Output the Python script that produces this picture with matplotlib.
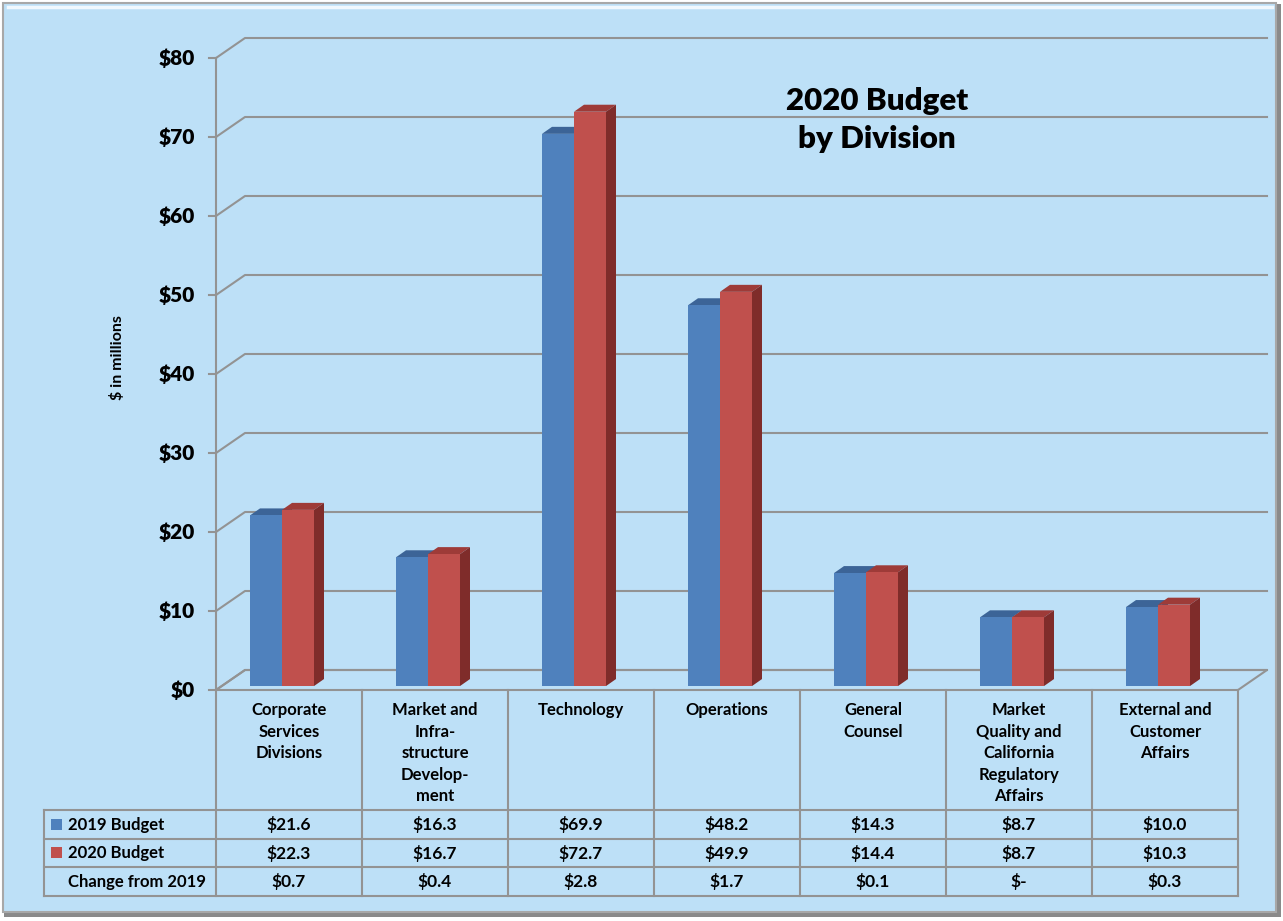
import numpy as np
import matplotlib
matplotlib.use('Agg')
import matplotlib.pyplot as plt
from matplotlib.patches import Rectangle, Polygon

plt.rcParams['font.family'] = ['Lato', 'DejaVu Sans']

# data
divisions = ['Corporate\nServices\nDivisions',
             'Market and\nInfra-\nstructure\nDevelop-\nment',
             'Technology',
             'Operations',
             'General\nCounsel',
             'Market\nQuality and\nCalifornia\nRegulatory\nAffairs',
             'External and\nCustomer\nAffairs']
budget_2019 = [21.6, 16.3, 69.9, 48.2, 14.3, 8.7, 10.0]
budget_2020 = [22.3, 16.7, 72.7, 49.9, 14.4, 8.7, 10.3]
change_labels = ['$0.7', '$0.4', '$2.8', '$1.7', '$0.1', '$-', '$0.3']
row_labels = ['2019 Budget', '2020 Budget', 'Change from 2019']
yticks = [0, 10, 20, 30, 40, 50, 60, 70, 80]

BLUE, BLUE_TOP, BLUE_SIDE = '#4F81BD', '#3C6497', '#385D8A'
RED, RED_TOP, RED_SIDE = '#C0504D', '#9E3B38', '#7F2C2A'
BG = '#BDE0F7'
GRID = '#939393'

W, H = 1283, 921
fig = plt.figure(figsize=(W / 100, H / 100), dpi=100)
fig.patch.set_facecolor('white')

# pixel overlay for frame, table, titles
bg = fig.add_axes([0, 0, 1, 1], zorder=0)
bg.set_xlim(0, W)
bg.set_ylim(H, 0)
bg.axis('off')

bg.add_patch(Rectangle((4, 4), 1277, 913, facecolor='#8A8A8A', edgecolor='none'))
bg.add_patch(Rectangle((3, 3), 1273, 909, facecolor=BG, edgecolor='#A8A8A8', lw=1.5))
bg.plot([8, 1272], [7, 7], color='white', lw=2.5, alpha=0.8)

# plot area geometry (pixels)
x_left, x_right = 216, 1238
y_zero, y_top = 690, 58
ax = fig.add_axes([x_left / W, 1 - y_zero / H, (x_right - x_left) / W, (y_zero - y_top) / H], zorder=1)
ax.set_xlim(-0.5, len(divisions) - 0.5)
ax.set_ylim(0, 80)
ax.axis('off')
ax.patch.set_alpha(0)

col_px = (x_right - x_left) / len(divisions)
unit_px = (y_zero - y_top) / 80.0
wall_dx = 29 / col_px
wall_dy = 20 / unit_px
x0, x1 = -0.5, len(divisions) - 0.5

# floor and back wall gridlines
ax.add_patch(Polygon([(x0, 0), (x1, 0), (x1 + wall_dx, wall_dy), (x0 + wall_dx, wall_dy)],
                     closed=True, facecolor='none', edgecolor=GRID, lw=1.5, clip_on=False, zorder=1))
for v in yticks:
    ax.plot([x0, x0 + wall_dx, x1 + wall_dx], [v, v + wall_dy, v + wall_dy],
            color=GRID, lw=1.5, clip_on=False, zorder=1)
    ax.plot([x0 - 7 / col_px, x0], [v, v], color=GRID, lw=1.5, clip_on=False)
    ax.text(x0 - 21 / col_px, v, '${}'.format(v), ha='right', va='center',
            fontsize=15, fontweight='heavy', color='black')
ax.plot([x0, x0], [0, 80], color=GRID, lw=1.5, clip_on=False, zorder=2)

# 3D-looking bars
bw = 32 / col_px
off = -7 / col_px
ddx = 10 / col_px
ddy = 7 / unit_px
base = 0.5

def bar3d(xl, h, front, top, side):
    ax.add_patch(Polygon([(xl, base + h), (xl + bw, base + h), (xl + bw + ddx, base + h + ddy),
                          (xl + ddx, base + h + ddy)], closed=True, facecolor=top,
                         edgecolor='none', zorder=3, clip_on=False))
    ax.add_patch(Polygon([(xl + bw, base), (xl + bw + ddx, base + ddy), (xl + bw + ddx, base + h + ddy),
                          (xl + bw, base + h)], closed=True, facecolor=side,
                         edgecolor='none', zorder=3, clip_on=False))
    ax.bar(xl, h, width=bw, bottom=base, align='edge', color=front, zorder=4)

for i in range(len(divisions)):
    bar3d(i + off - bw, budget_2019[i], BLUE, BLUE_TOP, BLUE_SIDE)
    bar3d(i + off, budget_2020[i], RED, RED_TOP, RED_SIDE)

# y label and title
bg.text(118, 358, '$ in millions', rotation=90, ha='center', va='center',
        fontsize=11.5, fontweight='bold')
bg.text(877, 120, '2020 Budget\nby Division', ha='center', va='center',
        fontsize=22.5, fontweight='heavy', linespacing=1.42)

# data table
row_y = [810, 839, 867, 896]
tab_left = 44
for i in range(len(divisions) + 1):
    xx = x_left + i * col_px
    bg.plot([xx, xx], [y_zero, row_y[-1]], color=GRID, lw=1.5)
for yy in row_y:
    bg.plot([tab_left, x_right], [yy, yy], color=GRID, lw=1.5)
bg.plot([tab_left, tab_left], [row_y[0], row_y[-1]], color=GRID, lw=1.5)

for i, name in enumerate(divisions):
    cx = x_left + (i + 0.5) * col_px
    bg.text(cx, 702, name, ha='center', va='top', fontsize=12,
            fontweight='bold', linespacing=1.43)
    bg.text(cx, (row_y[0] + row_y[1]) / 2, '${:.1f}'.format(budget_2019[i]),
            ha='center', va='center', fontsize=12.5, fontweight='bold')
    bg.text(cx, (row_y[1] + row_y[2]) / 2, '${:.1f}'.format(budget_2020[i]),
            ha='center', va='center', fontsize=12.5, fontweight='bold')
    bg.text(cx, (row_y[2] + row_y[3]) / 2, change_labels[i],
            ha='center', va='center', fontsize=12.5, fontweight='bold')

keys = [BLUE, RED, None]
for r, lab in enumerate(row_labels):
    yc = (row_y[r] + row_y[r + 1]) / 2
    if keys[r]:
        bg.add_patch(Rectangle((51, yc - 6), 11, 11, facecolor=keys[r], edgecolor='none'))
    bg.text(68, yc, lab, ha='left', va='center', fontsize=12, fontweight='bold')

fig.savefig('out.png', dpi=100, facecolor=fig.get_facecolor())
